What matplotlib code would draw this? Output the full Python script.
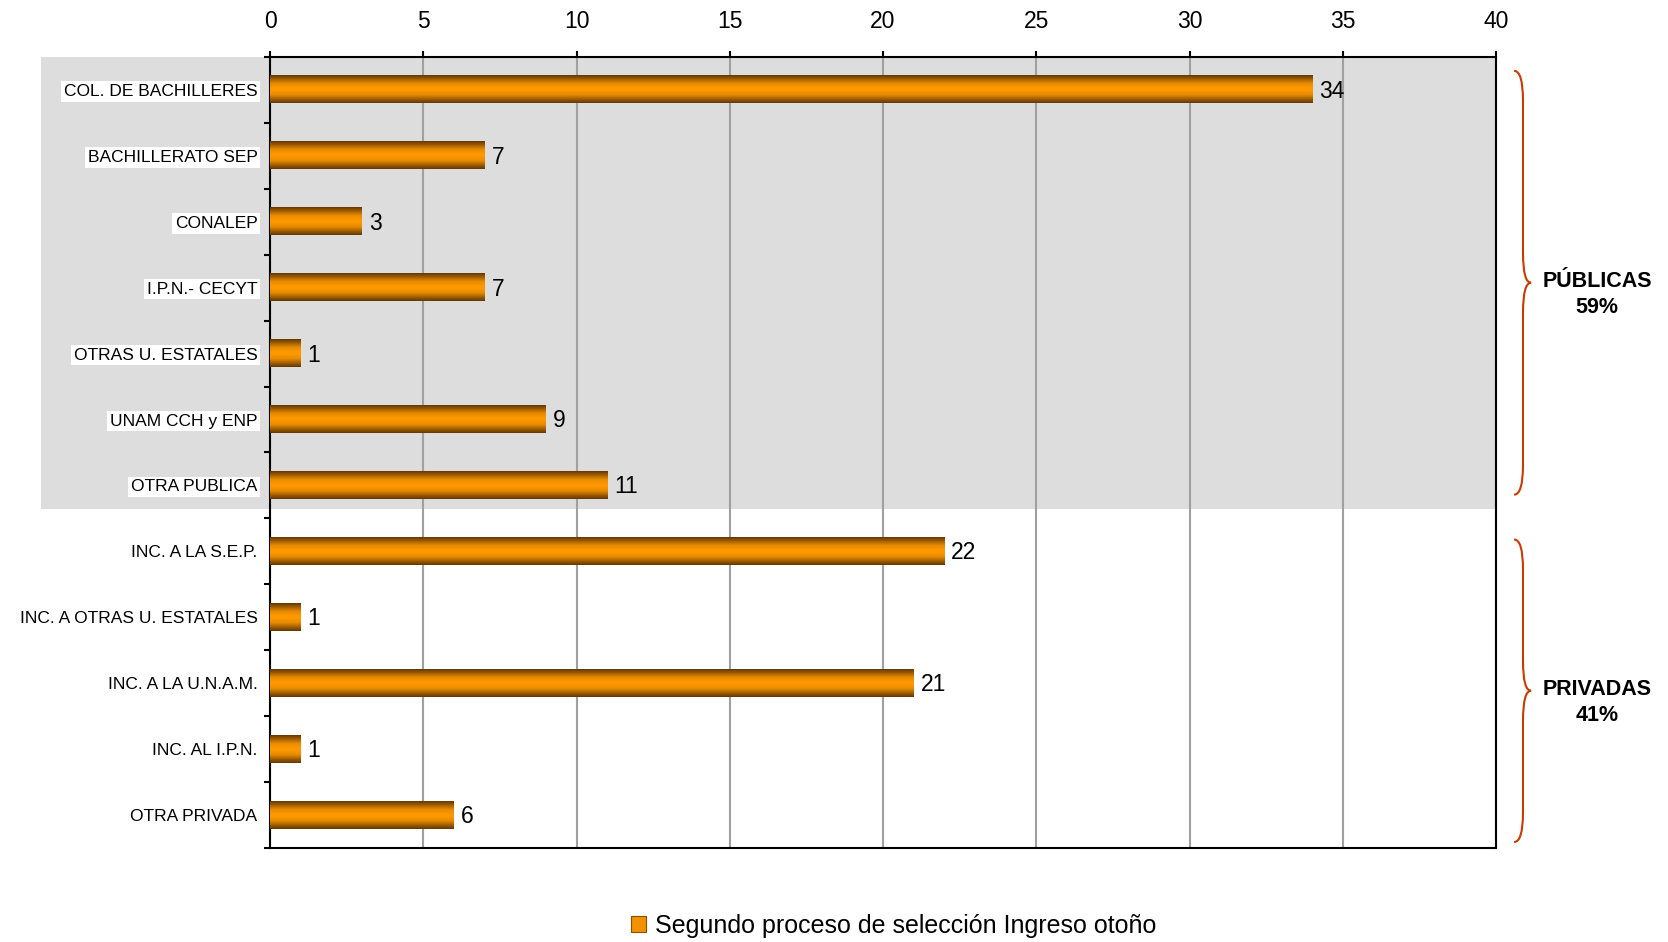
import numpy as np
import matplotlib
matplotlib.use('Agg')
import matplotlib.pyplot as plt
from matplotlib.colors import LinearSegmentedColormap
from matplotlib.patches import Rectangle, PathPatch, Patch
from matplotlib.path import Path
from matplotlib.transforms import blended_transform_factory

plt.rcParams['font.family'] = ['Liberation Sans', 'DejaVu Sans']

# datos
categorias = ['COL. DE BACHILLERES', 'BACHILLERATO SEP', 'CONALEP', 'I.P.N.- CECYT',
              'OTRAS U. ESTATALES', 'UNAM CCH y ENP', 'OTRA PUBLICA',
              'INC. A LA S.E.P.', 'INC. A OTRAS U. ESTATALES', 'INC. A LA U.N.A.M.',
              'INC. AL I.P.N.', 'OTRA PRIVADA']
valores = [34, 7, 3, 7, 1, 9, 11, 22, 1, 21, 1, 6]
xticks = [0, 5, 10, 15, 20, 25, 30, 35, 40]
grupos = ['PÚBLICAS\n59%', 'PRIVADAS\n41%']
serie = 'Segundo proceso de selección Ingreso otoño'

# posiciones de las llaves (en unidades de categoria)
llaves = [(-0.29, 6.14), (6.82, 11.41)]

naranja = LinearSegmentedColormap.from_list(
    'naranja', [(0, '#643800'), (0.3, '#ea8c00'), (0.5, '#ff9a00'),
                (0.7, '#ea8c00'), (1, '#643800')])

fig = plt.figure(figsize=(16.68, 9.42), dpi=100)
ax = fig.add_axes([0.1619, 0.0998, 0.7350, 0.8397])

y = np.arange(len(categorias))
bars = ax.barh(y, valores, height=0.41, color='none', edgecolor='none')
grad = np.linspace(0, 1, 64).reshape(-1, 1)
for b, v in zip(bars, valores):
    x0, y0, w, h = b.get_x(), b.get_y(), b.get_width(), b.get_height()
    ax.imshow(grad, cmap=naranja, extent=(x0, x0 + w, y0 + h, y0),
              aspect='auto', zorder=3, interpolation='bilinear')
    ax.annotate(str(v), (x0 + w, y0 + h / 2), xytext=(5, -1), textcoords='offset points',
                va='center', ha='left', fontsize=16.5)

ax.set_xlim(0, 40)
ax.set_ylim(len(categorias) - 0.5, -0.5)

# fondo gris de las publicas
trans = blended_transform_factory(ax.transAxes, ax.transData)
ax.add_patch(Rectangle((-0.1868, -0.5), 1.1868, 6.86, transform=trans,
                       facecolor='#dddddd', edgecolor='none', zorder=0, clip_on=False))

ax.set_axisbelow(True)
ax.xaxis.grid(True, color='#a0a0a0', lw=1.5)
ax.xaxis.tick_top()
ax.set_xticks(xticks)
ax.tick_params(axis='x', length=4.5, width=1.5, pad=13, labelsize=16.5)

ax.set_yticks(y)
ax.set_yticklabels(categorias, fontsize=12.5)
ax.set_yticks(np.arange(-0.5, len(categorias), 1), minor=True)
ax.tick_params(axis='y', which='major', length=0, pad=9)
ax.tick_params(axis='y', which='minor', length=4, width=1.5)
for lab in ax.get_yticklabels():
    lab.set_bbox(dict(facecolor='white', edgecolor='none', pad=2))

for s in ax.spines.values():
    s.set_color('black')
    s.set_linewidth(1.5)

# llaves
xe, xb, xt = 1.0147, 1.0220, 1.0286
r = 0.45
color_llave = '#cc3a00'
for (yt, yb), txt in zip(llaves, grupos):
    ym = (yt + yb) / 2
    verts = [(xe, yt), (xb, yt), (xb, yt + r),
             (xb, ym - r),
             (xb, ym), (xt, ym),
             (xb, ym), (xb, ym + r),
             (xb, yb - r),
             (xb, yb), (xe, yb)]
    codes = [Path.MOVETO, Path.CURVE3, Path.CURVE3,
             Path.LINETO,
             Path.CURVE3, Path.CURVE3,
             Path.CURVE3, Path.CURVE3,
             Path.LINETO,
             Path.CURVE3, Path.CURVE3]
    ax.add_patch(PathPatch(Path(verts, codes), transform=trans, facecolor='none',
                           edgecolor=color_llave, lw=1.5, clip_on=False))
    ax.text(1.0824, ym + 0.18, txt, transform=trans, ha='center', va='center',
            fontsize=15.5, fontweight='bold', linespacing=1.3)

handle = Patch(facecolor='#f39200', edgecolor='#8a5000', lw=0.8)
fig.legend([handle], [serie], loc='center', bbox_to_anchor=(0.536, 0.017),
           frameon=False, fontsize=18, handlelength=0.6, handleheight=0.6,
           handletextpad=0.35, borderpad=0.1)

fig.savefig('out.png', dpi=100)
